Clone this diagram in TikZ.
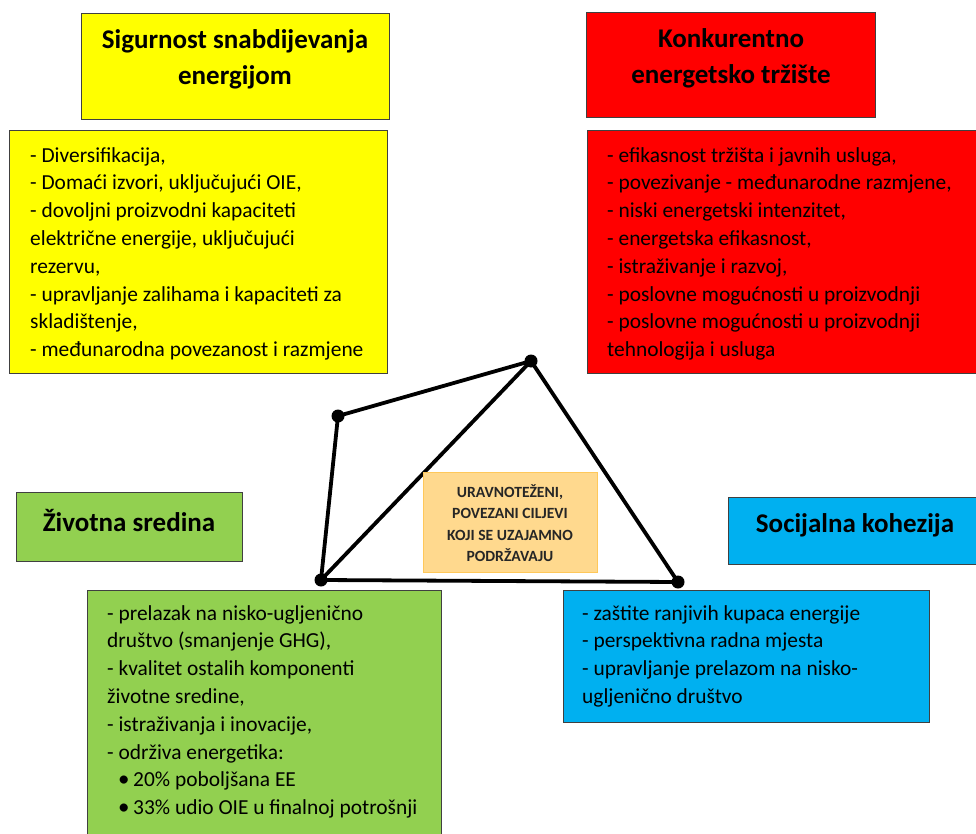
\documentclass[tikz,border=0pt]{standalone}
\usepackage{fontspec}
\setmainfont{Carlito}
\definecolor{cyel}{HTML}{FFFF00}
\definecolor{cred}{HTML}{FF0000}
\definecolor{cgreen}{HTML}{92D050}
\definecolor{cblue}{HTML}{00B0F0}
\definecolor{cfill}{HTML}{FFD98E}
\definecolor{cedge}{HTML}{FFC85A}
\definecolor{cborder}{HTML}{404040}
\begin{document}
\begin{tikzpicture}[x=1pt,y=-1pt,
  box/.style={draw=cborder, line width=1pt, rectangle, inner sep=0pt, anchor=north west},
  titletext/.style={font=\bfseries\fontsize{27}{36}\selectfont, align=center, inner sep=0pt},
  bodytext/.style={font=\fontsize{21.4}{27.8}\selectfont, align=left, inner sep=0pt, anchor=north west},
  dot/.style={circle, fill=black, inner sep=0pt, minimum size=13pt},
  link/.style={line width=3.8pt, line cap=round, line join=round}
]
\useasboundingbox (0,0) rectangle (976,834);

% boxes
\node[box, fill=cyel, minimum width=308pt, minimum height=106pt] (yT) at (81,13) {};
\node[box, fill=cyel, minimum width=378pt, minimum height=243pt] (yB) at (9,130) {};
\node[box, fill=cred, minimum width=289pt, minimum height=105pt] (rT) at (586,12) {};
\node[box, fill=cred, minimum width=392pt, minimum height=243pt] (rB) at (587,130) {};
\node[box, fill=cgreen, minimum width=226pt, minimum height=69pt] (gT) at (16,492) {};
\node[box, fill=cgreen, minimum width=354pt, minimum height=260pt] (gB) at (87,590) {};
\node[box, fill=cblue, minimum width=252pt, minimum height=67pt] (bT) at (728,497) {};
\node[box, fill=cblue, minimum width=366pt, minimum height=132pt] (bB) at (563,590) {};

% titles
\node[titletext] (yTt) at (235,59) {Sigurnost snabdijevanja\\energijom};
\node[titletext] (rTt) at (731,58) {Konkurentno\\energetsko tržište};
\node[titletext] (gTt) at (129,520) {Životna sredina};
\node[titletext] (bTt) at (855,525) {Socijalna kohezija};

% body texts
\node[bodytext] (yBt) at (30,147) {- Diversifikacija,\\- Domaći izvori, uključujući OIE,\\- dovoljni proizvodni kapaciteti\\električne energije, uključujući\\rezervu,\\- upravljanje zalihama i kapaciteti za\\skladištenje,\\- međunarodna povezanost i razmjene};
\node[bodytext] (rBt) at (607,147) {- efikasnost tržišta i javnih usluga,\\- povezivanje - međunarodne razmjene,\\- niski energetski intenzitet,\\- energetska efikasnost,\\- istraživanje i razvoj,\\- poslovne mogućnosti u proizvodnji\\- poslovne mogućnosti u proizvodnji\\tehnologija i usluga};
\node[bodytext] (gBt) at (107,605) {- prelazak na nisko-ugljenično\\društvo (smanjenje GHG),\\- kvalitet ostalih komponenti\\životne sredine,\\- istraživanja i inovacije,\\- održiva energetika:\\\hspace*{11pt}\makebox[15pt][l]{\fontsize{23}{27.8}\selectfont•}20\% poboljšana EE\\\hspace*{11pt}\makebox[15pt][l]{\fontsize{23}{27.8}\selectfont•}33\% udio OIE u finalnoj potrošnji};
\node[bodytext] (bBt) at (582,605) {- zaštite ranjivih kupaca energije\\- perspektivna radna mjesta\\- upravljanje prelazom na nisko-\\ugljenično društvo};

% triangle figure
\node[dot] (pT) at (531,361) {};
\node[dot] (pL) at (338,416) {};
\node[dot] (pBL) at (321,580) {};
\node[dot] (pBR) at (678,582) {};
\draw[link] (pT.center) -- (pL.center) -- (pBL.center) -- (pT.center) -- (pBR.center) -- (pBL.center);

% centre box
\node[box, fill=cfill, draw=cedge, line width=1pt, minimum width=174pt, minimum height=100pt] (cB) at (423,472) {};
\node[font=\bfseries\fontsize{15.6}{21.5}\selectfont, align=center, inner sep=0pt, text=black!85] (cBt) at (510,523) {URAVNOTEŽENI,\\POVEZANI CILJEVI\\KOJI SE UZAJAMNO\\PODRŽAVAJU};
\end{tikzpicture}
\end{document}
